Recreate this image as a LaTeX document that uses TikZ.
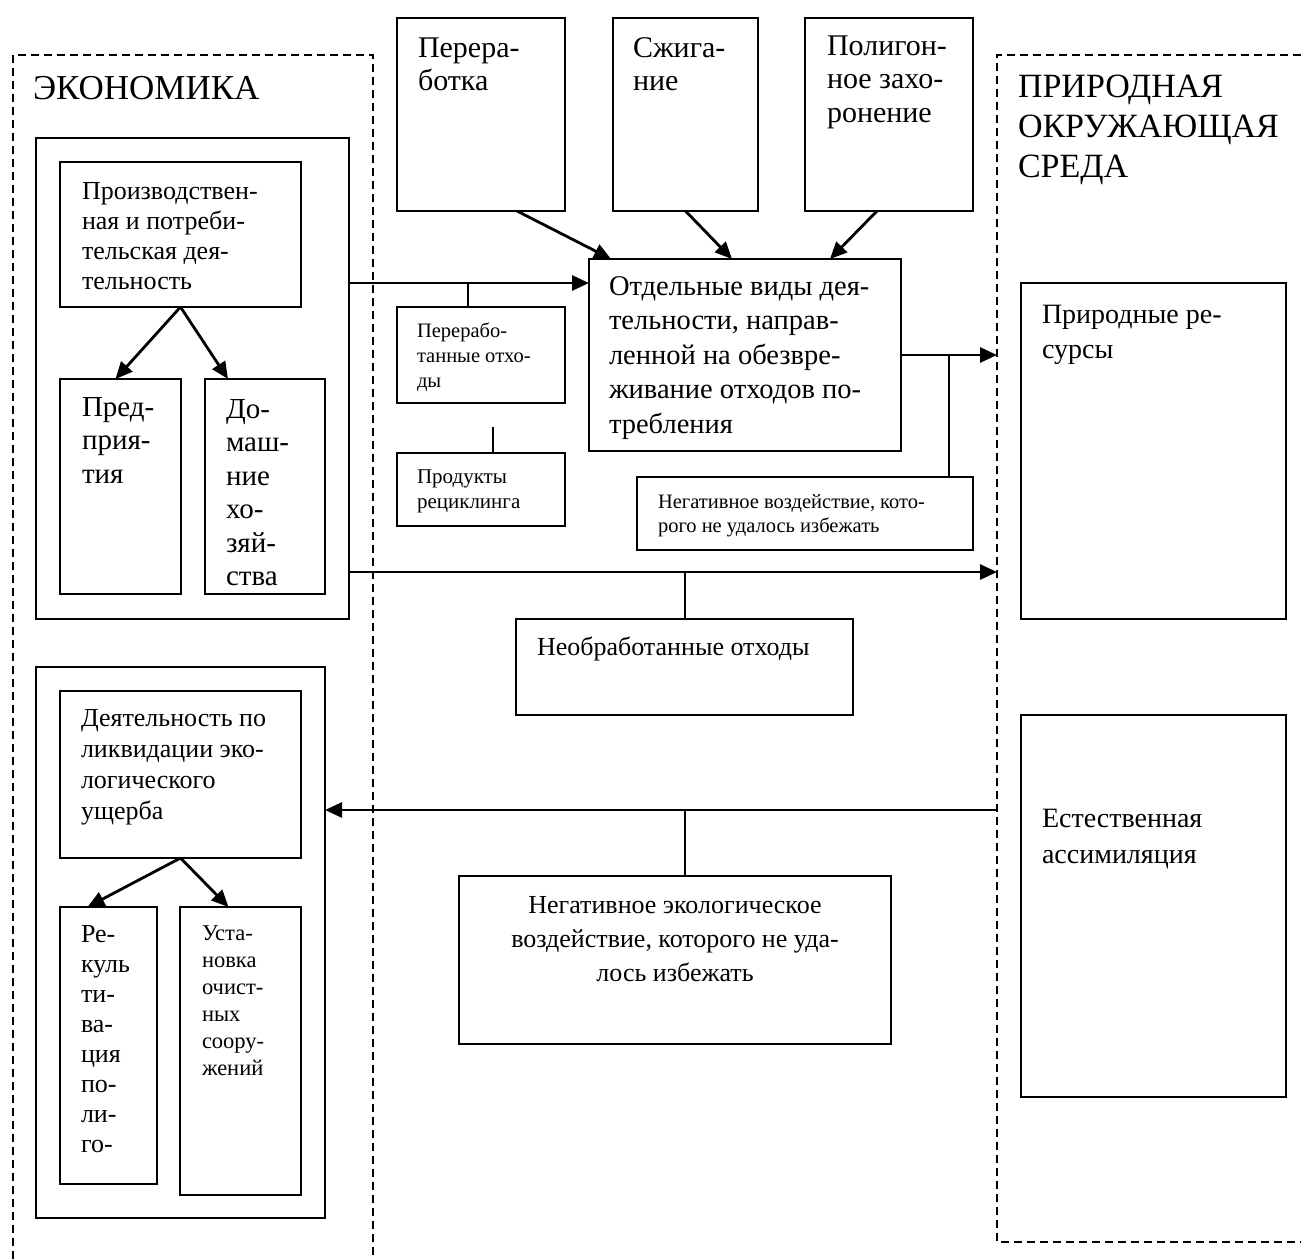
\documentclass[tikz,border=0pt]{standalone}
\usepackage{fontspec}
\setmainfont{Liberation Serif}
\usetikzlibrary{arrows.meta}
\newcommand\myfs[2]{\fontsize{#1pt}{#2pt}\selectfont}
\newcommand\ltab[1]{\begin{tabular}[t]{@{}l@{}}#1\end{tabular}}
\newcommand\ctab[1]{\begin{tabular}[t]{@{}c@{}}#1\end{tabular}}
\tikzset{
  box/.style={draw, line width=2.6pt, inner sep=0pt, outer sep=0pt, anchor=north west},
  txt/.style={inner sep=0pt, outer sep=0pt, anchor=base west},
  arr/.style={line width=2.8pt, -{Triangle[length=17pt,width=15pt]}},
  link/.style={line width=2.4pt},
  zone/.style={line width=2.1pt, dash pattern=on 8pt off 5pt}
}
\begin{document}
\begin{tikzpicture}[x=1pt,y=-1pt]
\useasboundingbox (0,0) rectangle (1301,1259);

% dashed zones
\draw[zone] (13,1259) -- (13,55) -- (373,55) -- (373,1259);
\draw[zone] (1301,55) -- (997,55) -- (997,1242) -- (1301,1242);
\coordinate (rd) at (997,0);

% zone titles
\node[txt, font=\myfs{35}{40}] (tEcon) at (33,99) {ЭКОНОМИКА};
\node[txt, font=\myfs{34}{40}] (tNat) at (1018,97) {\ltab{ПРИРОДНАЯ\\ОКРУЖАЮЩАЯ\\СРЕДА}};

% boxes
\node[box, minimum width=313pt, minimum height=481pt] (econ1) at (36,138) {};
\node[box, minimum width=241pt, minimum height=145pt] (proizv) at (60,162) {};
\node[box, minimum width=121pt, minimum height=215pt] (pred) at (60,379) {};
\node[box, minimum width=120pt, minimum height=215pt] (dom) at (205,379) {};
\node[box, minimum width=289pt, minimum height=551pt] (econ2) at (36,667) {};
\node[box, minimum width=241pt, minimum height=167pt] (deyat) at (60,691) {};
\node[box, minimum width=97pt, minimum height=277pt] (rek) at (60,907) {};
\node[box, minimum width=121pt, minimum height=288pt] (ust) at (180,907) {};
\node[box, minimum width=168pt, minimum height=193pt] (per) at (397,18) {};
\node[box, minimum width=145pt, minimum height=193pt] (szh) at (613,18) {};
\node[box, minimum width=168pt, minimum height=193pt] (pol) at (805,18) {};
\node[box, minimum width=312pt, minimum height=192pt] (otd) at (589,259) {};
\node[box, minimum width=168pt, minimum height=96pt] (pot) at (397,307) {};
\node[box, minimum width=168pt, minimum height=73pt] (prod) at (397,453) {};
\node[box, minimum width=336pt, minimum height=73pt] (neg1) at (637,477) {};
\node[box, minimum width=337pt, minimum height=96pt] (neobr) at (516,619) {};
\node[box, minimum width=432pt, minimum height=168pt] (negeco) at (459,876) {};
\node[box, minimum width=265pt, minimum height=336pt] (prir) at (1021,283) {};
\node[box, minimum width=265pt, minimum height=382pt] (est) at (1021,715) {};

% texts
\node[txt, font=\myfs{26}{30}] (tProizv) at (82,199) {\ltab{Производствен-\\ная и потреби-\\тельская дея-\\тельность}};
\node[txt, font=\myfs{29}{33.5}] (tPred) at (82,416) {\ltab{Пред-\\прия-\\тия}};
\node[txt, font=\myfs{29}{33.5}] (tDom) at (226,418) {\ltab{До-\\маш-\\ние\\хо-\\зяй-\\ства}};
\node[txt, font=\myfs{30}{33}] (tPer) at (418,57) {\ltab{Перера-\\ботка}};
\node[txt, font=\myfs{30}{33}] (tSzh) at (633,57) {\ltab{Сжига-\\ние}};
\node[txt, font=\myfs{30}{33.5}] (tPol) at (827,55) {\ltab{Полигон-\\ное захо-\\ронение}};
\node[txt, font=\myfs{28.5}{34.5}] (tOtd) at (609,295) {\ltab{Отдельные виды дея-\\тельности, направ-\\ленной на обезвре-\\живание отходов по-\\требления}};
\node[txt, font=\myfs{20.5}{25}] (tPot) at (417,337) {\ltab{Перерабо-\\танные отхо-\\ды}};
\node[txt, font=\myfs{21}{25}] (tProd) at (417,483) {\ltab{Продукты\\рециклинга}};
\node[txt, font=\myfs{20.5}{24}] (tNeg1) at (658,508) {\ltab{Негативное воздействие, кото-\\рого не удалось избежать}};
\node[txt, font=\myfs{26}{30}] (tNeobr) at (537,655) {Необработанные отходы};
\node[txt, font=\myfs{26}{34}, anchor=base] (tNegeco) at (675,913) {\ctab{Негативное экологическое\\воздействие, которого не уда-\\лось избежать}};
\node[txt, font=\myfs{26}{31}] (tDeyat) at (81,726) {\ltab{Деятельность по\\ликвидации эко-\\логического\\ущерба}};
\node[txt, font=\myfs{26}{30.1}] (tRek) at (81,942) {\ltab{Ре-\\куль\\ти-\\ва-\\ция\\по-\\ли-\\го-}};
\node[txt, font=\myfs{22.5}{27}] (tUst) at (202,940) {\ltab{Уста-\\новка\\очист-\\ных\\соору-\\жений}};
\node[txt, font=\myfs{28}{35}] (tPrir) at (1042,323) {\ltab{Природные ре-\\сурсы}};
\node[txt, font=\myfs{28}{36}] (tEst) at (1042,827) {\ltab{Естественная\\ассимиляция}};

% levels of the long connectors
\coordinate (yA) at (0,283);
\coordinate (yB) at (0,355);
\coordinate (yC) at (0,572);
\coordinate (yD) at (0,810);
\coordinate (bx1) at (468,283);
\coordinate (bx2) at (949,355);
\coordinate (bx3) at (493,427);
\coordinate (bx4) at (685,572);
\coordinate (bx5) at (685,810);

% arrows inside the economy
\draw[arr] (proizv.south) -- ([xshift=-5pt]pred.north);
\draw[arr] (proizv.south) -- ([xshift=-37pt]dom.north);
\draw[arr] (deyat.south) -- ([xshift=-21pt]rek.north);
\draw[arr] (deyat.south) -- ([xshift=-12pt]ust.north);

% arrows from the top boxes
\draw[arr] ([xshift=36pt]per.south) -- ([xshift=-134pt]otd.north);
\draw[arr] (szh.south) -- ([xshift=-13pt]otd.north);
\draw[arr] ([xshift=-12pt]pol.south) -- ([xshift=85pt]otd.north);

% long connectors
\draw[arr] (econ1.east |- yA) -- (otd.west |- yA);
\draw[link] (bx1) -- (bx1 |- pot.north);
\draw[link] (bx3) -- (bx3 |- prod.north);
\draw[arr] (otd.east |- yB) -- (rd |- yB);
\draw[link] (bx2) -- (bx2 |- neg1.north);
\draw[arr] (econ1.east |- yC) -- (rd |- yC);
\draw[link] (bx4) -- (bx4 |- neobr.north);
\draw[arr] (rd |- yD) -- (econ2.east |- yD);
\draw[link] (bx5) -- (bx5 |- negeco.north);
\end{tikzpicture}
\end{document}
